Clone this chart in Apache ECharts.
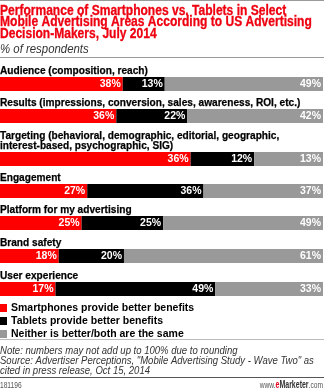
<!DOCTYPE html>
<html><head><meta charset="utf-8">
<script src="https://cdn.jsdelivr.net/npm/echarts@6/dist/echarts.min.js"></script>
<style>html,body{margin:0;padding:0;background:#fff}#c{width:324px;height:390px}</style>
</head><body><div id="c"></div>
<script>
const categories = [
  'Audience (composition, reach)',
  'Results (impressions, conversion, sales, awareness, ROI, etc.)',
  'Targeting (behavioral, demographic, editorial, geographic,\ninterest-based, psychographic, SIG)',
  'Engagement',
  'Platform for my advertising',
  'Brand safety',
  'User experience'
];
const smartphones = [38, 36, 36, 27, 25, 18, 17];
const tablets     = [13, 22, 12, 36, 25, 20, 49];
const neither     = [49, 42, 13, 37, 49, 61, 33];
const seriesNames = [
  'Smartphones provide better benefits',
  'Tablets provide better benefits',
  'Neither is better/both are the same'
];
const titleText = 'Performance of Smartphones vs. Tablets in Select\nMobile Advertising Areas According to US Advertising\nDecision-Makers, July 2014';
const subtitleText = '% of respondents';
const noteText = 'Note: numbers may not add up to 100% due to rounding\nSource: Advertiser Perceptions, "Mobile Advertising Study - Wave Two" as\ncited in press release, Oct 15, 2014';
const chartId = '181196';

const FONT = '"Liberation Sans", Arial, Helvetica, sans-serif';
const colors = ['#ff0000', '#000000', '#999999'];
const rowTops = [77, 109, 152, 184, 216, 249, 282];
const BAR_H = 14;
const valueSets = [smartphones, tablets, neither];

function txt(x, y, text, o) {
  return {
    type: 'text', x: x, y: y, scaleX: o.scaleX || 1, silent: true,
    style: Object.assign({
      text: text, fill: o.color || '#000', fontFamily: FONT,
      fontSize: o.size, fontWeight: o.weight || 'normal', fontStyle: o.style || 'normal',
      lineHeight: o.lh, align: o.align || 'left', verticalAlign: o.valign || 'top'
    }, o.extra || {})
  };
}

const grids = [], xAxes = [], yAxes = [], series = [];
const graphics = [];
categories.forEach((cat, i) => {
  const total = smartphones[i] + tablets[i] + neither[i];
  grids.push({ left: 0, right: 1, top: rowTops[i], height: BAR_H, containLabel: false, outerBoundsMode: 'none' });
  xAxes.push({ type: 'value', gridIndex: i, min: 0, max: total, show: false });
  yAxes.push({ type: 'category', gridIndex: i, data: [cat], show: false });
  valueSets.forEach((vals, k) => {
    series.push({
      type: 'bar', name: seriesNames[k], xAxisIndex: i, yAxisIndex: i, stack: 'row' + i,
      barWidth: BAR_H, data: [vals[i]], itemStyle: { color: colors[k] },
      silent: true, animation: false,
      label: { show: true, position: 'insideRight', distance: 2, formatter: '{c}%',
        color: '#fff', fontFamily: FONT, fontWeight: 'bold', fontSize: 10.5 }
    });
  });
  graphics.push(txt(0, rowTops[i] - 0.5, cat, { size: 11.5, weight: 'bold', lh: 10.5, valign: 'bottom', scaleX: 0.88,
    extra: { stroke: '#000', lineWidth: 0.25 } }));
});

graphics.push(
  txt(0, 5, titleText, { size: 14, weight: 'bold', lh: 11.7, color: '#ee0010', scaleX: 0.86,
    extra: { stroke: '#ee0010', lineWidth: 0.3 } }),
  txt(0, 43.5, subtitleText, { size: 12, style: 'italic', lh: 12, color: '#333', scaleX: 0.95 }),
  txt(0, 346, noteText, { size: 11, style: 'italic', lh: 10, color: '#333', scaleX: 0.867 }),
  txt(0, 385.5, chartId, { size: 8.5, lh: 9, color: '#555', scaleX: 0.78, valign: 'middle' }),
  txt(323, 385.5, '{a|www.}{e|e}{b|Marketer}{a|.com}', { size: 9, lh: 9, align: 'right', valign: 'middle', scaleX: 0.7,
    extra: { rich: {
      a: { fill: '#555', fontFamily: FONT, fontSize: 9.5 },
      e: { fill: '#e4001b', fontFamily: FONT, fontSize: 10, fontWeight: 'bold' },
      b: { fill: '#333', fontFamily: FONT, fontSize: 10, fontWeight: 'bold' }
    } } }),
  { type: 'line', silent: true, shape: { x1: 0, y1: 0.5, x2: 324, y2: 0.5 }, style: { stroke: '#999', lineWidth: 1 } },
  { type: 'line', silent: true, shape: { x1: 0, y1: 57.5, x2: 324, y2: 57.5 }, style: { stroke: '#999', lineWidth: 1 } },
  { type: 'line', silent: true, shape: { x1: 0, y1: 339.5, x2: 324, y2: 339.5 }, style: { stroke: '#bbb', lineWidth: 1 } },
  { type: 'line', silent: true, shape: { x1: 0, y1: 377.5, x2: 324, y2: 377.5 }, style: { stroke: '#555', lineWidth: 1 } }
);

const chart = echarts.init(document.getElementById('c'), null, { renderer: 'canvas' });
chart.setOption({
  animation: false,
  legend: {
    data: seriesNames, orient: 'vertical', left: 0, top: 302, padding: 0,
    icon: 'rect', itemWidth: 7, itemHeight: 8, itemGap: 1, selectedMode: false,
    textStyle: { color: '#000', fontFamily: FONT, fontWeight: 'bold', fontSize: 10.5, lineHeight: 12, padding: [0, 0, 0, -1] }
  },
  graphic: graphics,
  grid: grids, xAxis: xAxes, yAxis: yAxes, series: series
});
</script></body></html>
